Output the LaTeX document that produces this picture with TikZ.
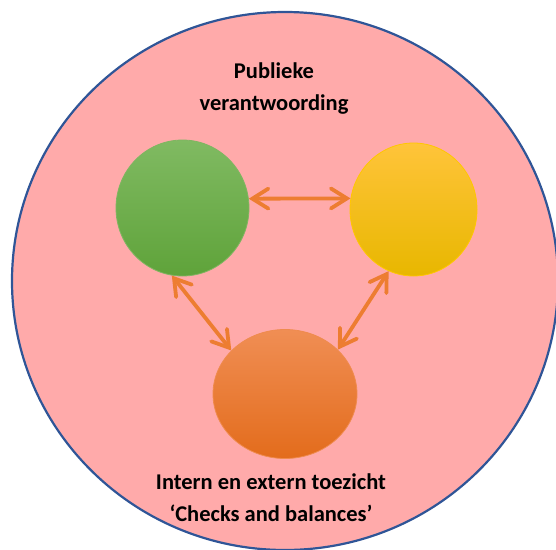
\documentclass[tikz,border=0pt]{standalone}
\usepackage{fontspec}
\setmainfont{Carlito}
\usetikzlibrary{arrows.meta, shapes.geometric}

\definecolor{pinkfill}{RGB}{255,170,170}
\definecolor{ringblue}{RGB}{47,85,151}
\definecolor{linkorange}{RGB}{237,125,49}
\definecolor{greentop}{RGB}{128,186,98}
\definecolor{greenbot}{RGB}{95,163,58}
\definecolor{yellowtop}{RGB}{255,196,58}
\definecolor{yellowmid}{RGB}{255,199,0}
\definecolor{yellowbot}{RGB}{232,183,0}
\definecolor{orangetop}{RGB}{240,142,84}
\definecolor{orangebot}{RGB}{227,108,28}

\tikzset{
  ball/.style={ellipse, inner sep=0pt, line width=0.8pt},
  link/.style={linkorange, line width=3.8pt, line cap=round,
    {Straight Barb[length=16pt, width=20pt, line cap=round]}-{Straight Barb[length=16pt, width=20pt, line cap=round]}},
  caption/.style={align=center, font=\bfseries\fontsize{22.5}{32}\selectfont}
}

\begin{document}
\begin{tikzpicture}[x=1pt, y=-1pt]
    \useasboundingbox (0, 0) rectangle (556, 549);
    \clip (0, 0) rectangle (556, 549);

    % grote cirkel
    \draw[ringblue, line width=2.2pt, fill=pinkfill] (285, 281) ellipse [x radius=273, y radius=269];

    % drie bollen
    \node[ball, draw=greenbot!80!white, top color=greentop, bottom color=greenbot,
      minimum width=133pt, minimum height=136pt] (green) at (182.5, 208) {};
    \node[ball, draw=yellowmid, top color=yellowtop, middle color=yellowmid, bottom color=yellowbot,
      minimum width=127pt, minimum height=133pt] (yellow) at (413.5, 209.5) {};
    \node[ball, draw=orangetop!90!orangebot, top color=orangetop, bottom color=orangebot,
      minimum width=144pt, minimum height=129pt] (orange) at (285, 394) {};

    % pijlen tussen de bollen
    \draw[link] (green.8) -- (yellow.170);
    \draw[link] (green.261) -- (orange.141);
    \draw[link] (yellow.248) -- (orange.40);

    % teksten
    \node[caption] (top) at (274, 88.5) {Publieke\\verantwoording};
    \node[caption] (bottom) at (271, 497.5) {Intern en extern toezicht\\‘Checks and balances’};
\end{tikzpicture}
\end{document}
